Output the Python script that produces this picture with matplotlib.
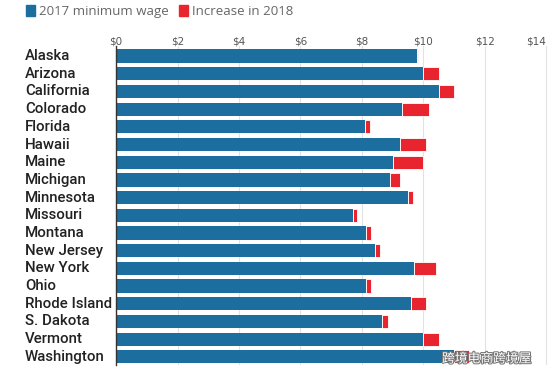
import matplotlib
matplotlib.use("Agg")
import matplotlib.pyplot as plt
import matplotlib.patheffects as pe
from matplotlib.patches import Patch

states = ["Alaska", "Arizona", "California", "Colorado", "Florida", "Hawaii", "Maine",
          "Michigan", "Minnesota", "Missouri", "Montana", "New Jersey", "New York", "Ohio",
          "Rhode Island", "S. Dakota", "Vermont", "Washington"]
wage_2017 = [9.80, 10.00, 10.50, 9.30, 8.10, 9.25, 9.00, 8.90, 9.50, 7.70, 8.15, 8.44,
             9.70, 8.15, 9.60, 8.65, 10.00, 11.00]
wage_2018 = [9.84, 10.50, 11.00, 10.20, 8.25, 10.10, 10.00, 9.25, 9.65, 7.85, 8.30, 8.60,
             10.40, 8.30, 10.10, 8.85, 10.50, 11.50]
ticks = [0, 2, 4, 6, 8, 10, 12, 14]
tick_labels = ["$0", "$2", "$4", "$6", "$8", "$10", "$12", "$14"]

blue = "#1b6e9e"
red = "#e8252f"

fig = plt.figure(figsize=(5.5, 3.84), dpi=100)
ax = fig.add_axes([0.211, 0.0495, 0.785, 0.8305])

ypos = list(range(len(states)))
increase = [b - a for a, b in zip(wage_2017, wage_2018)]
ax.barh(ypos, wage_2017, height=0.75, color=blue, zorder=3)
ax.barh(ypos, increase, left=wage_2017, height=0.75, color=red, zorder=3,
        edgecolor="white", linewidth=0.6)

ax.set_xlim(0, 14.05)
ax.set_ylim(17.46, -0.565)
ax.set_yticks(ypos)
ax.set_yticklabels([])
ax.tick_params(axis="y", length=0)

ax.xaxis.tick_top()
ax.set_xticks(ticks)
ax.set_xticklabels(tick_labels, fontsize=7.5, color="#555555", family="DejaVu Sans")
ax.tick_params(axis="x", length=0, pad=0)
xt = ax.get_xticklabels()
xt[-1].set_horizontalalignment("right")
ax.grid(axis="x", color="#e2e2e2", linewidth=0.8, zorder=0)
for sp in ["top", "right", "bottom"]:
    ax.spines[sp].set_visible(False)
ax.spines["left"].set_color("#333333")
ax.spines["left"].set_linewidth(1.0)
ax.spines["left"].set_zorder(4)

# state labels, left aligned
for i, s in enumerate(states):
    ax.annotate(s, xy=(0, i), xycoords=("figure fraction", "data"),
                xytext=(25 / 550, 0), textcoords=("figure fraction", "offset points"),
                ha="left", va="center", fontsize=10.8, fontweight="medium",
                color="#222222", family="Roboto")

handles = [Patch(color=blue, label="2017 minimum wage"),
           Patch(color=red, label="Increase in 2018")]
fig.legend(handles=handles, loc="upper left", bbox_to_anchor=(0.026, 1.017), ncol=2,
           frameon=False, handlelength=0.7, handleheight=0.9,
           handletextpad=0.3, columnspacing=0.75, labelcolor="#666666",
           prop={"family": "Open Sans", "size": 9.5})

fig.text(442 / 550, 1 - 359 / 384, "跨境电商跨境屋", fontsize=9.2, color="white",
         family=["Noto Sans CJK SC", "DejaVu Sans"], ha="left", va="center",
         path_effects=[pe.withStroke(linewidth=1.5, foreground="#777777")], zorder=10)

fig.savefig("out.png", dpi=100)
